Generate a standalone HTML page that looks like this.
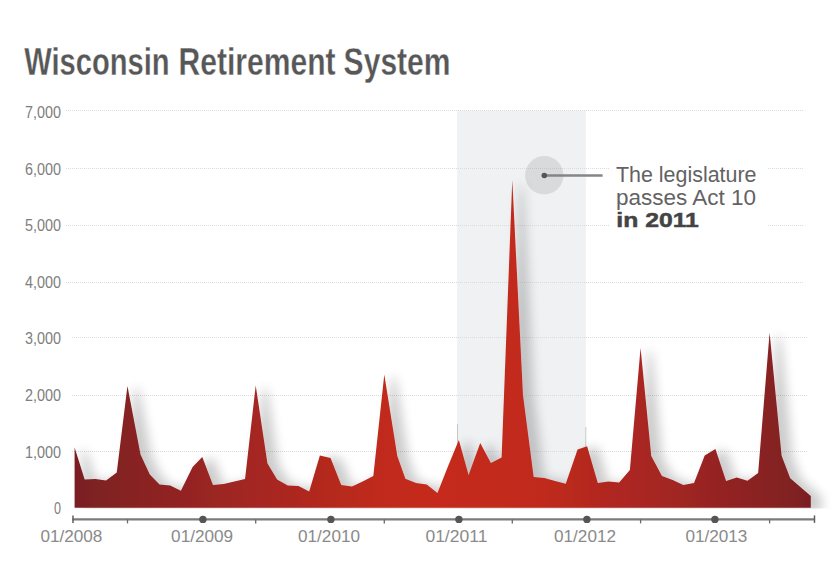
<!DOCTYPE html>
<html><head><meta charset="utf-8"><title>Wisconsin Retirement System</title>
<style>
html,body{margin:0;padding:0;background:#fff;}
body{width:840px;height:564px;overflow:hidden;font-family:"Liberation Sans",sans-serif;}
svg{display:block;}
text{font-family:"Liberation Sans",sans-serif;}
</style></head><body>
<svg width="840" height="564" viewBox="0 0 840 564">
<defs>
<linearGradient id="g" x1="73" y1="0" x2="812" y2="0" gradientUnits="userSpaceOnUse">
<stop offset="0" stop-color="#791f23"/>
<stop offset="0.25" stop-color="#a52720"/>
<stop offset="0.42" stop-color="#c02a1e"/>
<stop offset="0.5" stop-color="#c52b1d"/>
<stop offset="0.63" stop-color="#c02a1e"/>
<stop offset="0.8" stop-color="#a42621"/>
<stop offset="1" stop-color="#7b1f23"/>
</linearGradient>
<filter id="sh" x="-5%" y="-10%" width="115%" height="125%">
<feMorphology in="SourceAlpha" operator="dilate" radius="2"/>
<feGaussianBlur stdDeviation="5.5"/>
<feOffset dx="8.5" dy="2.5" result="b"/>
<feComponentTransfer><feFuncA type="linear" slope="0.2"/></feComponentTransfer>
<feMerge><feMergeNode/><feMergeNode in="SourceGraphic"/></feMerge>
</filter>
<clipPath id="cp"><rect x="0" y="0" width="840" height="508.5"/></clipPath>
</defs>
<rect width="840" height="564" fill="#fff"/>
<rect x="457.2" y="110.5" width="128.6" height="397" fill="#f0f1f3"/>
<line x1="66" y1="110.5" x2="804" y2="110.5" stroke="#dbdbdb" stroke-width="1" stroke-dasharray="1 1"/>
<line x1="66" y1="168.5" x2="804" y2="168.5" stroke="#dbdbdb" stroke-width="1" stroke-dasharray="1 1"/>
<line x1="66" y1="225.5" x2="804" y2="225.5" stroke="#dbdbdb" stroke-width="1" stroke-dasharray="1 1"/>
<line x1="66" y1="282.5" x2="804" y2="282.5" stroke="#dbdbdb" stroke-width="1" stroke-dasharray="1 1"/>
<line x1="72" y1="337.5" x2="808" y2="337.5" stroke="#dbdbdb" stroke-width="1" stroke-dasharray="1 1"/>
<line x1="72" y1="395.5" x2="808" y2="395.5" stroke="#dbdbdb" stroke-width="1" stroke-dasharray="1 1"/>
<line x1="72" y1="451.5" x2="808" y2="451.5" stroke="#dbdbdb" stroke-width="1" stroke-dasharray="1 1"/>
<rect x="609" y="160" width="158.5" height="75" fill="#fff"/>
<line x1="457.5" y1="424" x2="457.5" y2="445" stroke="#aaa" stroke-width="0.6"/>
<line x1="585.8" y1="427" x2="585.8" y2="450" stroke="#aaa" stroke-width="0.6"/>
<g clip-path="url(#cp)"><path d="M74.6,507.8 L74.6,447.5 L84.69,479.5 L95.38,479 L106.07,480.5 L116.76,472.5 L127.45,386 L140.5,454.5 L149.8,474.5 L159.52,484.5 L170.21,485.5 L180.9,490.75 L192.6,467 L202.28,457 L212.97,485 L223.66,484 L234.35,481.5 L245.04,479 L255.73,385.5 L267.4,463.3 L277.11,479.5 L287.8,485.5 L298.49,486 L309.18,491.5 L319.87,455.5 L330.56,458 L341.25,485 L351.94,486.5 L362.63,481.5 L373.32,476 L384.3,374.6 L397.3,456 L405.39,478.75 L416.08,483 L426.77,484.5 L437.46,493 L448.15,466 L458.84,440 L468.6,475 L480.22,443 L490.91,463 L501.6,457.5 L512.29,180 L522.98,395 L533.67,477 L544.36,478 L555.05,481 L565.74,483.75 L577.6,449.5 L587.12,446.25 L597.81,483 L608.5,481.5 L619.19,482.5 L629.88,470 L640.57,348 L651.26,456 L661.95,476 L672.64,480 L683.33,485 L694.02,483 L704.71,455.5 L715.4,449 L726.09,481 L736.78,477.5 L747.47,480.75 L758.16,473 L769.6,332.8 L781.6,455.7 L790.23,478.3 L800.92,487.5 L810.8,496 L810.8,507.8 Z" fill="url(#g)" filter="url(#sh)"/></g>
<g font-size="38.2" font-weight="bold" fill="#575757" stroke="#fff" stroke-width="0.3"><text x="24.3" y="75.3" textLength="145.3" lengthAdjust="spacingAndGlyphs">Wisconsin</text><text x="178.6" y="75.3" textLength="157" lengthAdjust="spacingAndGlyphs">Retirement</text><text x="343.6" y="75.3" textLength="107" lengthAdjust="spacingAndGlyphs">System</text></g>
<text x="25" y="117.7" font-size="17" fill="#7e7e7e" textLength="36" lengthAdjust="spacingAndGlyphs">7,000</text>
<text x="25" y="174.8" font-size="17" fill="#7e7e7e" textLength="36" lengthAdjust="spacingAndGlyphs">6,000</text>
<text x="25" y="231.4" font-size="17" fill="#7e7e7e" textLength="36" lengthAdjust="spacingAndGlyphs">5,000</text>
<text x="25" y="287.6" font-size="17" fill="#7e7e7e" textLength="36" lengthAdjust="spacingAndGlyphs">4,000</text>
<text x="25" y="344.3" font-size="17" fill="#7e7e7e" textLength="36" lengthAdjust="spacingAndGlyphs">3,000</text>
<text x="25" y="401.2" font-size="17" fill="#7e7e7e" textLength="36" lengthAdjust="spacingAndGlyphs">2,000</text>
<text x="25" y="458" font-size="17" fill="#7e7e7e" textLength="36" lengthAdjust="spacingAndGlyphs">1,000</text>
<text x="54" y="514" font-size="17" fill="#7e7e7e" textLength="7" lengthAdjust="spacingAndGlyphs">0</text>
<line x1="72.5" y1="519.4" x2="814.5" y2="519.4" stroke="#7b7b7b" stroke-width="2.1"/>
<line x1="73" y1="515.6" x2="73" y2="522.9" stroke="#5e5e5e" stroke-width="1.5"/>
<line x1="814.5" y1="515.4" x2="814.5" y2="522.9" stroke="#5e5e5e" stroke-width="1.5"/>
<line x1="127.5" y1="519.4" x2="127.5" y2="523.4" stroke="#6a6a6a" stroke-width="1.3"/>
<text x="71.4" y="542" font-size="17" fill="#8a8a8a" text-anchor="middle" textLength="62" lengthAdjust="spacingAndGlyphs">01/2008</text>
<circle cx="202.9" cy="519.4" r="3.7" fill="#555"/>
<line x1="255.7" y1="519.4" x2="255.7" y2="523.4" stroke="#6a6a6a" stroke-width="1.3"/>
<text x="202.1" y="542" font-size="17" fill="#8a8a8a" text-anchor="middle" textLength="62" lengthAdjust="spacingAndGlyphs">01/2009</text>
<circle cx="330.9" cy="519.4" r="3.7" fill="#555"/>
<line x1="384.3" y1="519.4" x2="384.3" y2="523.4" stroke="#6a6a6a" stroke-width="1.3"/>
<text x="329.0" y="542" font-size="17" fill="#8a8a8a" text-anchor="middle" textLength="62" lengthAdjust="spacingAndGlyphs">01/2010</text>
<circle cx="458.9" cy="519.4" r="3.7" fill="#555"/>
<line x1="512.3" y1="519.4" x2="512.3" y2="523.4" stroke="#6a6a6a" stroke-width="1.3"/>
<text x="456.4" y="542" font-size="17" fill="#8a8a8a" text-anchor="middle" textLength="62" lengthAdjust="spacingAndGlyphs">01/2011</text>
<circle cx="586.9" cy="519.4" r="3.7" fill="#555"/>
<line x1="640.6" y1="519.4" x2="640.6" y2="523.4" stroke="#6a6a6a" stroke-width="1.3"/>
<text x="585.0" y="542" font-size="17" fill="#8a8a8a" text-anchor="middle" textLength="62" lengthAdjust="spacingAndGlyphs">01/2012</text>
<circle cx="714.9" cy="519.4" r="3.7" fill="#555"/>
<line x1="769.6" y1="519.4" x2="769.6" y2="523.4" stroke="#6a6a6a" stroke-width="1.3"/>
<text x="716.4" y="542" font-size="17" fill="#8a8a8a" text-anchor="middle" textLength="62" lengthAdjust="spacingAndGlyphs">01/2013</text>
<circle cx="544.3" cy="175.3" r="19.2" fill="#000" fill-opacity="0.095"/>
<line x1="544.5" y1="175.5" x2="602.6" y2="175.5" stroke="#858585" stroke-width="2.3"/>
<circle cx="544.3" cy="175.5" r="2.8" fill="#555"/>
<text x="616" y="182" font-size="22" fill="#626262" textLength="140.5" lengthAdjust="spacingAndGlyphs">The legislature</text>
<text x="616" y="204.7" font-size="22" fill="#626262" textLength="140" lengthAdjust="spacingAndGlyphs">passes Act 10</text>
<text x="616.3" y="226.8" font-size="21" font-weight="bold" fill="#444" stroke="#444" stroke-width="0.5" textLength="82.5" lengthAdjust="spacingAndGlyphs">in 2011</text>
</svg></body></html>
